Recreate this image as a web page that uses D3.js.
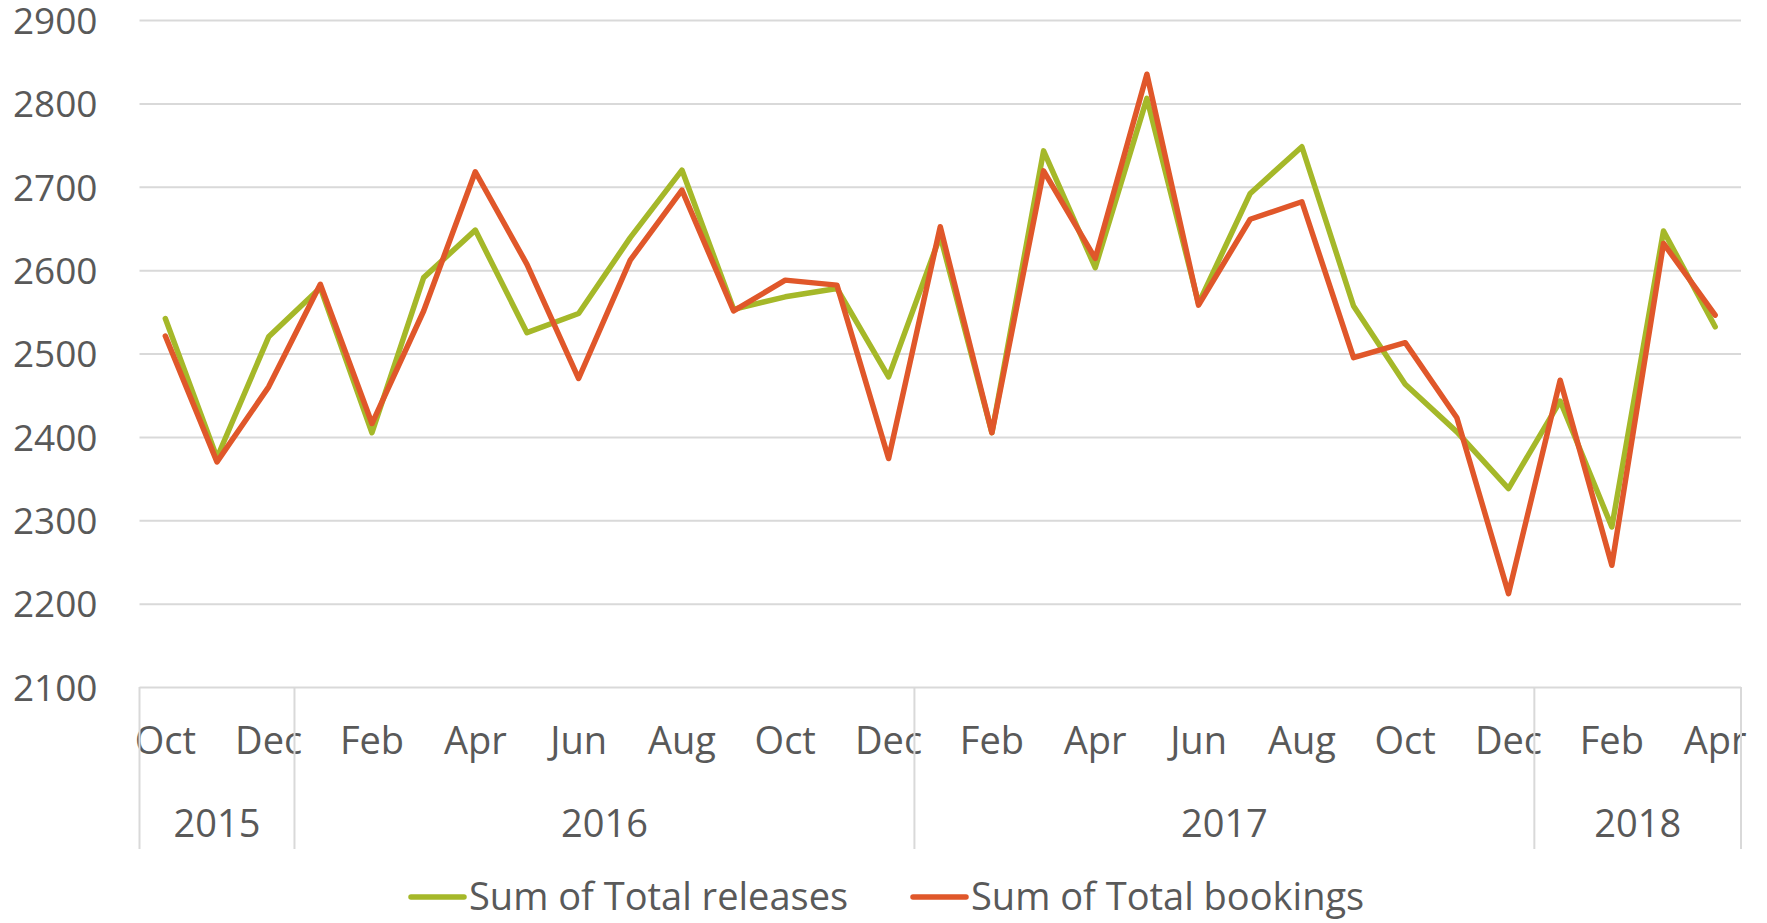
<!DOCTYPE html>
<html>
<head>
<meta charset="utf-8">
<script src="https://cdn.jsdelivr.net/npm/d3@7"></script>
<style>
  body { margin: 0; background: #fff; }
  svg { display: block; }
  text { font-family: "Open Sans", Lato, sans-serif; fill: #595959; }
</style>
</head>
<body>
<div class="container"></div>
<script>
// data
const months = ['Oct', 'Nov', 'Dec',
  'Jan', 'Feb', 'Mar', 'Apr', 'May', 'Jun', 'Jul', 'Aug', 'Sep', 'Oct', 'Nov', 'Dec',
  'Jan', 'Feb', 'Mar', 'Apr', 'May', 'Jun', 'Jul', 'Aug', 'Sep', 'Oct', 'Nov', 'Dec',
  'Jan', 'Feb', 'Mar', 'Apr'];
const years = ['2015', '2016', '2017', '2018'];
const monthsPerYear = [3, 12, 12, 4];
const releases = [2542, 2375, 2520, 2579, 2405, 2591, 2648, 2525, 2548, 2639, 2720, 2553, 2568, 2578, 2472, 2641,
  2405, 2743, 2603, 2806, 2560, 2692, 2748, 2557, 2463, 2406, 2338, 2443, 2292, 2647, 2532];
const bookings = [2521, 2370, 2460, 2583, 2416, 2551, 2718, 2607, 2470, 2612, 2696, 2551, 2588, 2582, 2374, 2652,
  2405, 2719, 2614, 2835, 2558, 2661, 2682, 2495, 2513, 2423, 2212, 2468, 2246, 2632, 2546];
const seriesNames = ['Sum of Total releases', 'Sum of Total bookings'];
const yTicks = [2100, 2200, 2300, 2400, 2500, 2600, 2700, 2800, 2900];

// config
const config = {
  width: 1767,
  height: 923,
  margin: { top: 20, right: 26, bottom: 236, left: 139.5 },
  color: {
    releases: '#a5b829',
    bookings: '#e0572a',
    grid: '#d9d9d9',
  },
  fontSize: 38,
  yFontSize: 37,
};

const plotW = config.width - config.margin.left - config.margin.right;
const plotH = config.height - config.margin.top - config.margin.bottom;

const svg = d3.select('.container')
  .append('svg')
  .attr('width', config.width)
  .attr('height', config.height);

const g = svg.append('g')
  .attr('transform', `translate(${config.margin.left},${config.margin.top})`);

const x = d3.scaleBand()
  .domain(d3.range(months.length))
  .range([0, plotW]);

const y = d3.scaleLinear()
  .domain([2100, 2900])
  .range([plotH, 0]);

// gridlines + y labels
const yAxis = g.append('g')
  .call(d3.axisLeft(y).tickValues(yTicks).tickFormat(d3.format('d')).tickSize(-plotW).tickPadding(42));
yAxis.select('.domain').remove();
yAxis.selectAll('line').attr('stroke', config.color.grid).attr('stroke-width', 2);
yAxis.selectAll('text')
  .style('font-size', `${config.yFontSize}px`)
  .attr('fill', '#595959')
  .attr('dy', '0.36em');

// month labels (every other month)
const xAxis = g.append('g')
  .attr('transform', `translate(0,${plotH})`)
  .call(d3.axisBottom(x)
    .tickValues(d3.range(0, months.length, 2))
    .tickFormat(i => months[i])
    .tickSize(0)
    .tickPadding(40));
xAxis.select('.domain').remove();
xAxis.selectAll('text')
  .style('font-size', `${config.fontSize}px`)
  .attr('fill', '#595959');

// year group separators and labels
const yearStarts = d3.cumsum([0].concat(monthsPerYear));
const sepH = 162;
g.append('g').selectAll('line')
  .data(yearStarts)
  .enter().append('line')
  .attr('x1', d => d < months.length ? x(d) : plotW)
  .attr('x2', d => d < months.length ? x(d) : plotW)
  .attr('y1', plotH)
  .attr('y2', plotH + sepH)
  .attr('stroke', config.color.grid)
  .attr('stroke-width', 2);

g.append('g').selectAll('text')
  .data(years)
  .enter().append('text')
  .attr('x', (d, i) => {
    const a = x(yearStarts[i]);
    const b = yearStarts[i + 1] < months.length ? x(yearStarts[i + 1]) : plotW;
    return (a + b) / 2;
  })
  .attr('y', plotH + 150)
  .attr('text-anchor', 'middle')
  .style('font-size', `${config.fontSize}px`)
  .text(d => d);

// lines
const line = d3.line()
  .x((d, i) => x(i) + x.bandwidth() / 2)
  .y(d => y(d));

[[releases, config.color.releases], [bookings, config.color.bookings]].forEach(([values, color]) => {
  g.append('path')
    .datum(values)
    .attr('d', line)
    .attr('fill', 'none')
    .attr('stroke', color)
    .attr('stroke-width', 5.5)
    .attr('stroke-linejoin', 'round')
    .attr('stroke-linecap', 'round');
});

// legend
const legend = svg.append('g');
const legendItems = [
  { name: seriesNames[0], color: config.color.releases, x: 409 },
  { name: seriesNames[1], color: config.color.bookings, x: 911 },
];
legendItems.forEach(item => {
  legend.append('line')
    .attr('x1', item.x + 2).attr('x2', item.x + 55)
    .attr('y1', 897).attr('y2', 897)
    .attr('stroke', item.color)
    .attr('stroke-width', 5.5)
    .attr('stroke-linecap', 'round');
  legend.append('text')
    .attr('x', item.x + 60)
    .attr('y', 910)
    .style('font-size', `${config.fontSize}px`)
    .text(item.name);
});
</script>
</body>
</html>
